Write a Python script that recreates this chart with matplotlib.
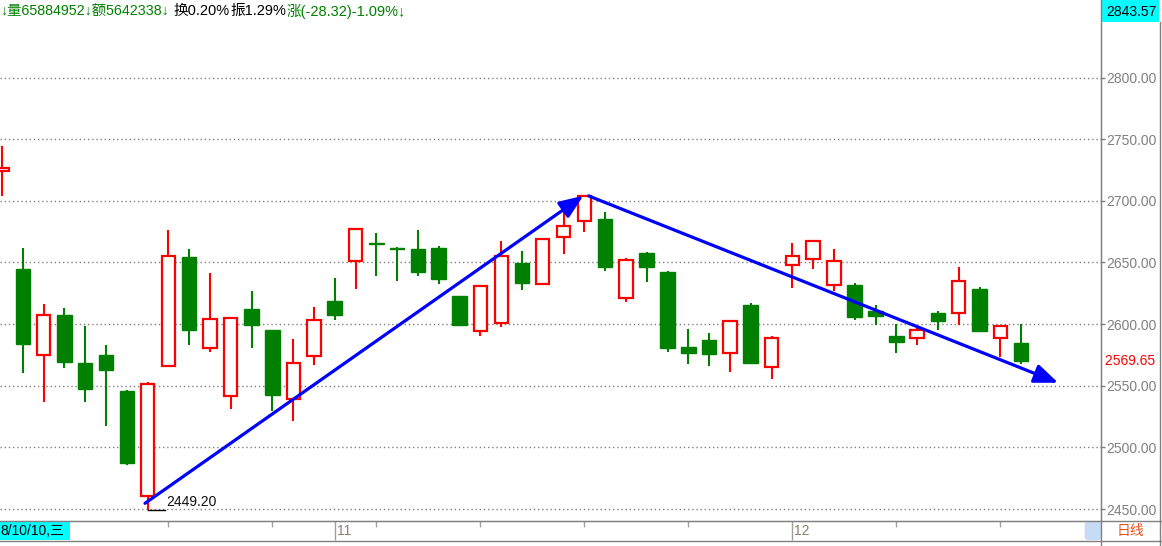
import matplotlib
matplotlib.use('Agg')
import matplotlib.pyplot as plt
import matplotlib.transforms as mtransforms
from matplotlib.patches import Rectangle, FancyBboxPatch
from matplotlib.lines import Line2D
from matplotlib.ticker import FixedLocator, FixedFormatter

W, H, DPI = 1162, 546, 100

# ---------------- data ----------------
dates = ['10-10', '10-11', '10-12', '10-15', '10-16', '10-17', '10-18', '10-19',
         '10-22', '10-23', '10-24', '10-25', '10-26', '10-29', '10-30', '10-31',
         '11-01', '11-02', '11-05', '11-06', '11-07', '11-08', '11-09', '11-12',
         '11-13', '11-14', '11-15', '11-16', '11-19', '11-20', '11-21', '11-22',
         '11-23', '11-26', '11-27', '11-28', '11-29', '11-30', '12-03', '12-04',
         '12-05', '12-06', '12-07', '12-10', '12-11', '12-12', '12-13', '12-14',
         '12-17', '12-18']
opens = [2724.5, 2644.4, 2575.3, 2607.0, 2568.8, 2575.3, 2546.1, 2460.7,
         2566.1, 2654.2, 2581.0, 2542.0, 2611.9, 2594.9, 2539.6, 2574.5,
         2618.4, 2651.0, 2666.0, 2662.0, 2661.3, 2661.5, 2622.5, 2594.0,
         2601.1, 2649.3, 2632.8, 2671.0, 2683.5, 2685.6, 2620.9, 2657.5,
         2642.0, 2581.8, 2586.7, 2576.7, 2615.2, 2565.3, 2648.2, 2652.6,
         2631.6, 2631.6, 2610.4, 2590.6, 2588.5, 2609.3, 2608.8, 2628.3,
         2588.5, 2585.0]
highs = [2744.7, 2661.5, 2616.0, 2612.7, 2598.1, 2582.7, 2546.3, 2552.8,
         2676.4, 2660.7, 2641.2, 2606.0, 2626.6, 2595.4, 2587.5, 2613.6,
         2637.1, 2677.5, 2674.0, 2662.2, 2676.0, 2663.1, 2622.8, 2631.4,
         2667.2, 2659.1, 2669.6, 2696.5, 2704.5, 2691.3, 2653.9, 2658.5,
         2642.8, 2595.7, 2593.0, 2602.6, 2617.3, 2590.5, 2665.6, 2667.2,
         2660.8, 2633.7, 2615.3, 2600.4, 2596.6, 2610.4, 2645.9, 2629.7,
         2599.3, 2599.9]
lows = [2703.5, 2560.2, 2536.6, 2564.0, 2536.6, 2517.1, 2485.4, 2449.2,
        2565.0, 2582.9, 2577.2, 2531.2, 2580.5, 2529.3, 2521.1, 2566.7,
        2603.3, 2628.7, 2639.0, 2635.0, 2639.0, 2632.8, 2598.4, 2590.5,
        2597.8, 2627.6, 2632.0, 2656.9, 2674.3, 2642.8, 2617.9, 2634.1,
        2577.2, 2567.5, 2565.9, 2561.0, 2567.5, 2555.3, 2629.3, 2645.0,
        2627.2, 2603.4, 2599.3, 2576.6, 2583.1, 2595.3, 2599.3, 2593.6,
        2573.6, 2567.3]
closes = [2726.5, 2583.7, 2607.3, 2569.1, 2547.2, 2562.6, 2487.0, 2551.2,
          2655.3, 2595.1, 2604.1, 2605.1, 2599.2, 2542.3, 2568.3, 2603.3,
          2607.0, 2677.2, 2665.3, 2660.6, 2642.4, 2636.6, 2599.2, 2631.2,
          2655.3, 2633.3, 2669.4, 2679.7, 2703.5, 2646.1, 2652.3, 2646.3,
          2580.5, 2576.4, 2575.6, 2602.4, 2568.3, 2588.6, 2655.3, 2667.0,
          2650.8, 2605.8, 2606.6, 2585.5, 2595.5, 2602.6, 2635.1, 2594.4,
          2598.5, 2569.65]

price_ticks = [2450, 2500, 2550, 2600, 2650, 2700, 2750, 2800]
y_top_value = 2843.57
last_value = 2569.65
low_value = 2449.20
low_index = 7

week_ticks = [8, 13, 18, 23, 28, 33, 43, 48]
month_ticks = [16, 38]
month_labels = ['11', '12']

# hand-drawn trend arrows (index, price)
arrow_up = [(6.875, 2454.6), (27.95, 2704.1)]
arrow_down = [(28.2, 2704.0), (50.78, 2552.4)]

header_parts = [('↓量65884952↓额5642338↓', '#008000', 0, 10.3),
                ('换0.20%', 'black', 173, 10.5),
                ('振1.29%', 'black', 230, 10.5),
                ('涨(-28.32)-1.09%↓', '#008000', 287, 10.5)]
first_date_label = '8/10/10,三'
period_label = '日线'

# ---------------- figure ----------------
FONT = ['Liberation Sans', 'Noto Sans CJK SC', 'DejaVu Sans']
plt.rcParams['font.family'] = FONT

fig = plt.figure(figsize=(W / DPI, H / DPI), dpi=DPI)
fig.patch.set_facecolor('white')


def fx(x):
    return x / W


def fy(y):
    return 1 - y / H


ax_l, ax_r, ax_t, ax_b = 0, 1101, 23.8, 521
ax = fig.add_axes([fx(ax_l), fy(ax_b), (ax_r - ax_l) / W, (ax_b - ax_t) / H])
ax.set_facecolor('white')
ax.set_xlim(-0.096, 52.84)
ax.set_ylim(2440.27, y_top_value)

RED, GREEN = '#ff0000', '#008000'
for i in range(len(opens)):
    o, h, l, c = opens[i], highs[i], lows[i], closes[i]
    top, bot = max(o, c), min(o, c)
    if c >= o:
        ax.vlines(i, top, h, color=RED, lw=1.5, zorder=2)
        ax.vlines(i, l, bot, color=RED, lw=1.5, zorder=2)
        ax.bar(i, max(top - bot, 0.3), bottom=bot, width=0.64,
               facecolor='white', edgecolor=RED, linewidth=1.6, zorder=3)
    else:
        ax.vlines(i, l, h, color=GREEN, lw=1.5, zorder=2)
        ax.bar(i, max(top - bot, 0.3), bottom=bot, width=0.70,
               facecolor=GREEN, edgecolor=GREEN, linewidth=1.0, zorder=3)

# trend arrows
for (x0, y0), (x1, y1) in [arrow_up, arrow_down]:
    ax.annotate('', xy=(x1, y1), xytext=(x0, y0),
                arrowprops=dict(arrowstyle='-|>,head_length=0.8,head_width=0.32',
                                mutation_scale=18, color='#0000ff', lw=2.3,
                                shrinkA=0, shrinkB=0),
                zorder=5)

# low annotation
ax.plot([low_index, low_index + 0.85], [low_value, low_value], color='black', lw=1, zorder=4)
ax.text(low_index + 0.92, low_value + 6.5, f'{low_value:.2f}', fontsize=10,
        color='#111111', va='center', ha='left', zorder=6)

# grid + axes
ax.yaxis.set_major_locator(FixedLocator(price_ticks))
ax.yaxis.set_major_formatter(FixedFormatter([f'{v:.2f}' for v in price_ticks]))
ax.yaxis.tick_right()
ax.tick_params(axis='y', direction='out', length=3, width=1, color='#808080',
               labelcolor='#808080', labelsize=10, pad=1)
ax.grid(axis='y', linestyle=(0, (1, 2)), color='#808080', lw=1)

ax.xaxis.set_major_locator(FixedLocator(month_ticks))
ax.xaxis.set_major_formatter(FixedFormatter(month_labels))
ax.xaxis.set_minor_locator(FixedLocator(week_ticks))
ax.tick_params(axis='x', which='major', direction='out', length=14, width=1,
               color='#a0a0a0', labelcolor='#8a8070', labelsize=10, pad=-12)
ax.tick_params(axis='x', which='minor', direction='out', length=4, width=1,
               color='#a0a0a0')
offset = mtransforms.ScaledTranslation(2 / DPI, 0, fig.dpi_scale_trans)
for lab in ax.get_xticklabels():
    lab.set_ha('left')
    lab.set_transform(lab.get_transform() + offset)

for s in ['left', 'top']:
    ax.spines[s].set_visible(False)
ax.spines['right'].set_color('#808080')
ax.spines['bottom'].set_color('#808080')

# last price label
ax.text(1.0, last_value, f' {last_value:.2f}', transform=ax.get_yaxis_transform(),
        fontsize=10, color='red', ha='left', va='center')

# ---------------- frame pieces ----------------
def fline(x0, y0, x1, y1, color='#808080', lw=1.0):
    fig.add_artist(Line2D([fx(x0), fx(x1)], [fy(y0), fy(y1)], color=color, lw=lw))


fline(0, 521, W, 521)
fline(0, 541, W, 541)
fline(1101, 0, 1101, H)
fline(1160, 22, 1160, H)

# top right cyan value box
fig.add_artist(Rectangle((fx(1102), fy(22)), (1159 - 1102) / W, 22 / H,
                         facecolor='#00ffff', edgecolor='none'))
fig.text(fx(1131), fy(12), f'{y_top_value:.2f}', fontsize=10, color='black',
         ha='center', va='center')

# first date box
fig.add_artist(Rectangle((0, fy(540)), 70 / W, 18 / H, facecolor='#00ffff',
                         edgecolor='none'))
fig.text(fx(0), fy(531), first_date_label, fontsize=10, color='black',
         ha='left', va='center')

# scroll box
fig.add_artist(FancyBboxPatch((fx(1087), fy(539)), 12 / W, 16 / H,
                              boxstyle='round,pad=0.002,rounding_size=0.004',
                              facecolor='#c6dcf4', edgecolor='none'))
fig.text(fx(1130), fy(531), period_label, fontsize=10, color='#e8501a',
         ha='center', va='center')

# header
for txt, col, x, fs in header_parts:
    fig.text(fx(x), fy(11), txt, fontsize=fs, color=col, ha='left', va='center')

fig.savefig('out.png', dpi=DPI, facecolor='white')
